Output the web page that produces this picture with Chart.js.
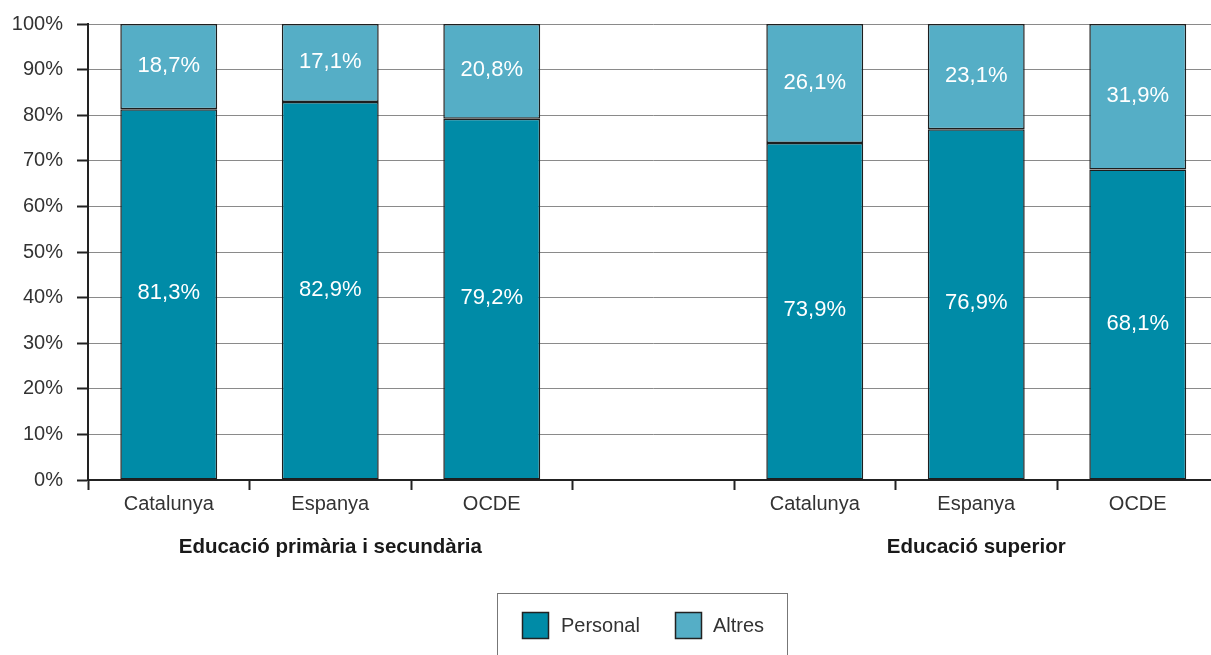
<!DOCTYPE html>
<html>
<head>
<meta charset="utf-8">
<script src="https://cdn.jsdelivr.net/npm/chart.js@4/dist/chart.umd.min.js"></script>
<style>
html,body{margin:0;padding:0;background:#fff;overflow:hidden;}
#wrap{width:1230px;height:655px;}
</style>
</head>
<body>
<div id="wrap"><canvas id="c" width="1230" height="655"></canvas></div>
<script>
const categories = ['Catalunya','Espanya','OCDE','','Catalunya','Espanya','OCDE'];
const groupLabels = ['Educació primària i secundària','Educació superior'];
const groupSpans = [[0,2],[4,6]];
const personal = [81.3, 82.9, 79.2, null, 73.9, 76.9, 68.1];
const altres = [18.7, 17.1, 20.8, null, 26.1, 23.1, 31.9];
const seriesNames = ['Personal','Altres'];
const colors = ['#008BA7','#55AEC6'];
const yTicks = [0,10,20,30,40,50,60,70,80,90,100];

const FONT = '"Liberation Sans", Arial, sans-serif';
const fmt = v => v.toFixed(1).replace('.', ',') + '%';

const extras = {
  id: 'extras',
  afterDatasetsDraw(chart) {
    const ctx = chart.ctx;
    ctx.save();
    ctx.fillStyle = '#fff';
    ctx.font = '22px ' + FONT;
    ctx.textAlign = 'center';
    ctx.textBaseline = 'middle';
    chart.data.datasets.forEach((ds, di) => {
      const meta = chart.getDatasetMeta(di);
      meta.data.forEach((bar, i) => {
        const v = ds.data[i];
        if (v == null) return;
        ctx.fillText(fmt(v), bar.x, (bar.y + bar.base) / 2 - 1);
      });
    });
    ctx.restore();
  },
  afterDraw(chart) {
    const ctx = chart.ctx;
    const xs = chart.scales.x;
    ctx.save();
    ctx.fillStyle = '#1a1a1a';
    ctx.font = 'bold 20.5px ' + FONT;
    ctx.textAlign = 'center';
    ctx.textBaseline = 'middle';
    groupSpans.forEach((sp, gi) => {
      const cx = (xs.getPixelForValue(sp[0]) + xs.getPixelForValue(sp[1])) / 2;
      ctx.fillText(groupLabels[gi], cx, 547);
    });
    const bx = 497.5, by = 593.5, bw = 290, bh = 80;
    ctx.strokeStyle = '#777';
    ctx.lineWidth = 1;
    ctx.strokeRect(bx, by, bw, bh);
    const items = [{x:522, tx:561}, {x:675, tx:713}];
    ctx.font = '20px ' + FONT;
    ctx.textAlign = 'left';
    chart.data.datasets.forEach((ds, i) => {
      const it = items[i];
      ctx.fillStyle = ds.backgroundColor;
      ctx.fillRect(it.x, 612, 26, 26);
      ctx.strokeStyle = '#222';
      ctx.lineWidth = 1.5;
      ctx.strokeRect(it.x + 0.5, 612.5, 26, 26);
      ctx.fillStyle = '#333';
      ctx.fillText(ds.label, it.tx, 626);
    });
    ctx.restore();
  }
};

new Chart(document.getElementById('c'), {
  type: 'bar',
  data: {
    labels: categories,
    datasets: [
      {label: seriesNames[0], data: personal, backgroundColor: colors[0], borderColor: '#1e1e1e', borderWidth: 1.5, borderSkipped: false},
      {label: seriesNames[1], data: altres, backgroundColor: colors[1], borderColor: '#1e1e1e', borderWidth: 1.5, borderSkipped: false}
    ]
  },
  options: {
    responsive: false,
    animation: false,
    devicePixelRatio: 1,
    layout: {padding: {top: 23, left: 0, right: 11.5, bottom: 135}},
    datasets: {bar: {categoryPercentage: 1, barPercentage: 0.6}},
    plugins: {legend: {display: false}, tooltip: {enabled: false}},
    scales: {
      x: {
        stacked: true,
        clip: false,
        afterFit: s => { s.height = 40; },
        grid: {offset: true, drawOnChartArea: false, tickLength: 10, tickColor: '#222', tickWidth: 2, color: '#222'},
        border: {color: '#222', width: 2},
        ticks: {color: '#333', font: {family: FONT, size: 20}, padding: 2, maxRotation: 0, autoSkip: false}
      },
      y: {
        stacked: true,
        clip: false,
        min: 0, max: 100,
        afterFit: s => { s.width = 88; },
        afterBuildTicks: s => { s.ticks = yTicks.map(v => ({value: v})); },
        grid: {color: '#8a8a8a', lineWidth: 1, tickLength: 11, tickColor: '#222', tickWidth: 2},
        border: {color: '#222', width: 2},
        ticks: {color: '#333', font: {family: FONT, size: 20, lineHeight: 1}, padding: 14, callback: v => v + '%'}
      }
    }
  },
  plugins: [extras]
});
</script>
</body>
</html>
